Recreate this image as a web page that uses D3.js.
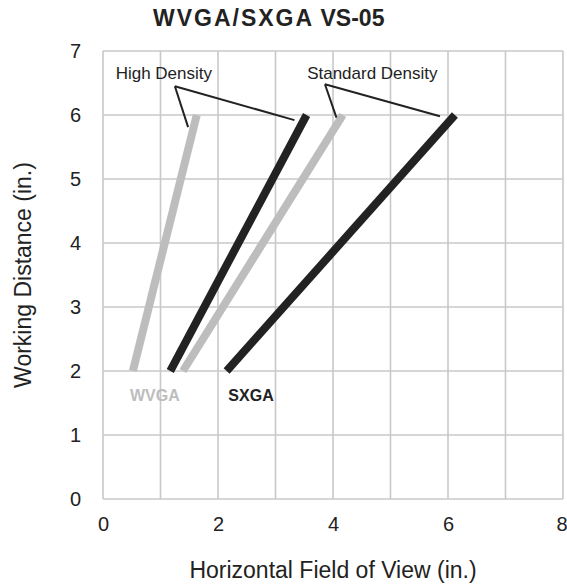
<!DOCTYPE html>
<html>
<head>
<meta charset="utf-8">
<script src="https://cdn.jsdelivr.net/npm/d3@7"></script>
<style>
  body { margin: 0; background: #fff; }
  text { font-family: "Liberation Sans", Arial, sans-serif; }
</style>
</head>
<body>
<svg id="chart" width="567" height="586"></svg>
<script>
// values
let distances = [2, 6];
let lineNames = ["WVGA High", "SXGA High", "WVGA Standard", "SXGA Standard"];
let lineSensor = ["WVGA", "SXGA", "WVGA", "SXGA"];
let fovNear = [0.52, 1.17, 1.39, 2.15];
let fovFar = [1.63, 3.54, 4.17, 6.12];
let xTicks = [0, 2, 4, 6, 8];
let yTicks = [0, 1, 2, 3, 4, 5, 6, 7];
let labelNames = ["High Density", "Standard Density"];
let labelAt = [[0.22, 6.57], [3.55, 6.57]];
let leaderApex = [[1.25, 6.45], [3.86, 6.48]];
let leaderEnds = [[[1.48, 5.81], [3.33, 5.92]], [[4.06, 5.96], [5.86, 5.98]]];
let sensorNames = ["WVGA", "SXGA"];
let sensorLabelAt = [[0.47, 1.53], [2.18, 1.53]];

let colors = { WVGA: "#bdbdbd", SXGA: "#222222" };

let svg = d3.select("#chart");
let plotLeft = 103, plotTop = 51, plotW = 460, plotH = 448;

let x = d3.scaleLinear().domain([0, 8]).range([plotLeft, plotLeft + plotW]);
let y = d3.scaleLinear().domain([0, 7]).range([plotTop + plotH, plotTop]);

// grid
let grid = svg.append("g").attr("stroke", "#c8c8c8").attr("stroke-width", 1.6);
grid.selectAll("line.v")
    .data(d3.range(0, 9))
    .enter().append("line")
    .attr("x1", d => x(d)).attr("x2", d => x(d))
    .attr("y1", y(0)).attr("y2", y(7));
grid.selectAll("line.h")
    .data(yTicks)
    .enter().append("line")
    .attr("x1", x(0)).attr("x2", x(8))
    .attr("y1", d => y(d)).attr("y2", d => y(d));

// axes (labels only)
let xAxis = svg.append("g")
    .attr("transform", "translate(0," + (y(0) + 14) + ")")
    .call(d3.axisBottom(x).tickValues(xTicks).tickFormat(d3.format("d")).tickSize(0).tickPadding(4));
let yAxis = svg.append("g")
    .attr("transform", "translate(" + (x(0) - 22) + ",0)")
    .call(d3.axisLeft(y).tickValues(yTicks).tickFormat(d3.format("d")).tickSize(0).tickPadding(0));
[xAxis, yAxis].forEach(function (a) {
    a.select(".domain").remove();
    a.selectAll("text")
        .attr("font-family", "Liberation Sans, Arial, sans-serif")
        .attr("font-size", 20)
        .attr("fill", "#222");
});
// last x label sits at the page edge
xAxis.selectAll("text").filter(d => d === 8)
    .attr("text-anchor", "end").attr("dx", 4);

// series lines
lineNames.forEach(function (name, i) {
    svg.append("line")
        .attr("x1", x(fovNear[i])).attr("y1", y(distances[0]))
        .attr("x2", x(fovFar[i])).attr("y2", y(distances[1]))
        .attr("stroke", colors[lineSensor[i]])
        .attr("stroke-width", 8);
});

// density callouts
labelNames.forEach(function (name, i) {
    svg.append("text")
        .attr("x", x(labelAt[i][0])).attr("y", y(labelAt[i][1]))
        .attr("font-size", 17)
        .attr("fill", "#222")
        .text(name);
    leaderEnds[i].forEach(function (end) {
        svg.append("line")
            .attr("x1", x(leaderApex[i][0])).attr("y1", y(leaderApex[i][1]))
            .attr("x2", x(end[0])).attr("y2", y(end[1]))
            .attr("stroke", "#222")
            .attr("stroke-width", 2);
    });
});

// sensor labels
sensorNames.forEach(function (name, i) {
    svg.append("text")
        .attr("x", x(sensorLabelAt[i][0])).attr("y", y(sensorLabelAt[i][1]))
        .attr("font-size", 16)
        .attr("font-weight", "bold")
        .attr("fill", colors[name])
        .text(name);
});

// title
let title = svg.append("text")
    .attr("x", 153).attr("y", 26)
    .attr("font-size", 23)
    .attr("font-weight", "bold")
    .attr("fill", "#222");
title.append("tspan").attr("letter-spacing", 2).text("WVGA/SXGA");
title.append("tspan").text(" VS-05");

// axis titles
svg.append("text")
    .attr("x", x(4)).attr("y", 578)
    .attr("text-anchor", "middle")
    .attr("font-size", 23)
    .attr("fill", "#222")
    .text("Horizontal Field of View (in.)");
svg.append("text")
    .attr("transform", "translate(31," + y(3.5) + ") rotate(-90)")
    .attr("text-anchor", "middle")
    .attr("font-size", 23)
    .attr("fill", "#222")
    .text("Working Distance (in.)");
</script>
</body>
</html>
